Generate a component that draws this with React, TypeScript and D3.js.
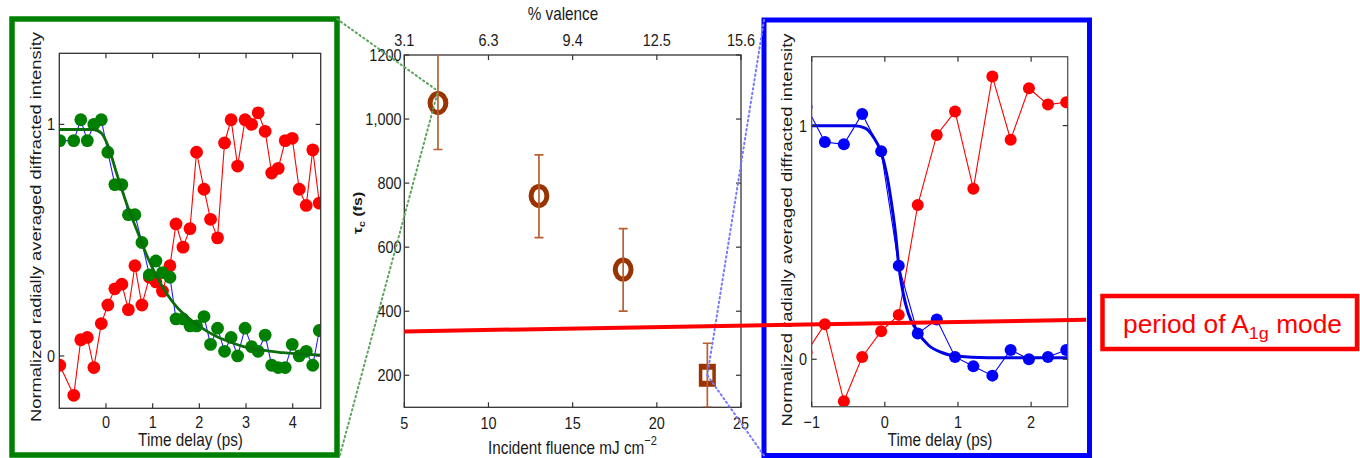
import React from 'react';
import * as d3 from 'd3';

const FONT = "'Liberation Sans', Arial, Helvetica, sans-serif";

// ---------- Left panel (green frame) ----------
const L_TIME = [-0.99, -0.69, -0.54, -0.40, -0.26, -0.10, 0.04, 0.19, 0.34, 0.48, 0.62, 0.77, 0.93, 1.07, 1.21, 1.37, 1.50, 1.65, 1.80, 1.94, 2.10, 2.24, 2.39, 2.54, 2.68, 2.82, 2.98, 3.12, 3.26, 3.41, 3.55, 3.69, 3.84, 3.99, 4.14, 4.29, 4.43, 4.57];
const L_GREEN = [0.93, 0.93, 1.02, 0.93, 1.00, 1.02, 0.88, 0.74, 0.74, 0.61, 0.61, 0.49, 0.35, 0.41, 0.36, 0.34, 0.16, 0.16, 0.13, 0.13, 0.17, 0.05, 0.12, 0.02, 0.08, 0.00, 0.12, 0.04, 0.02, 0.09, -0.04, -0.05, -0.05, 0.05, 0.00, 0.02, -0.04, 0.11];
const L_RED = [-0.04, -0.17, 0.07, 0.08, -0.05, 0.14, 0.22, 0.29, 0.31, 0.20, 0.39, 0.22, 0.34, 0.32, 0.28, 0.39, 0.57, 0.47, 0.55, 0.88, 0.72, 0.59, 0.51, 0.92, 1.02, 0.82, 1.02, 1.00, 1.05, 0.97, 0.79, 0.81, 0.93, 0.94, 0.72, 0.65, 0.89, 0.66];
const L_FIT_T = [-1, -0.27, -0.09, 0.05, 0.23, 0.44, 0.66, 0.87, 1.09, 1.30, 1.51, 1.73, 2.01, 2.37, 2.73, 3.09, 3.44, 3.80, 4.16, 4.6];
const L_FIT_V = [0.978, 0.978, 0.961, 0.904, 0.788, 0.659, 0.544, 0.436, 0.342, 0.270, 0.213, 0.170, 0.127, 0.084, 0.055, 0.033, 0.023, 0.014, 0.009, 0.004];
const L_X_TICKS = [0, 1, 2, 3, 4];
const L_Y_TICKS = [0, 1];

// ---------- Center panel ----------
const FLUENCE = [7, 13, 18, 23];
const TAU = [1050, 760, 530, 200];
const TAU_LO = [905, 630, 400, 100];
const TAU_HI = [1205, 888, 658, 300];
const MARKER = ['circle', 'circle', 'circle', 'square'];
const C_X_TICKS = [5, 10, 15, 20, 25];
const C_TOP_LABELS = ['3.1', '6.3', '9.4', '12.5', '15.6'];
const C_Y_TICKS = [200, 400, 600, 800, 1000, 1200];
const C_Y_LABELS = ['200', '400', '600', '800', '1,000', '1200'];
// A1g period annotation line (in center-panel data coordinates)
const A1G_FLUENCE = [5, 45.5];
const A1G_TAU = [337, 373];

// ---------- Right panel (blue frame) ----------
const R_TIME = [-1.07, -0.82, -0.56, -0.31, -0.05, 0.19, 0.45, 0.71, 0.96, 1.21, 1.47, 1.72, 1.97, 2.23, 2.48];
const R_BLUE = [1.08, 0.93, 0.92, 1.05, 0.89, 0.40, 0.11, 0.17, 0.01, -0.03, -0.07, 0.04, 0.00, 0.01, 0.04];
const R_RED = [0.03, 0.15, -0.18, 0.01, 0.12, 0.19, 0.66, 0.96, 1.06, 0.73, 1.21, 0.94, 1.16, 1.09, 1.10];
const R_FIT_T = [-1, -0.41, -0.27, -0.16, -0.055, 0.023, 0.091, 0.146, 0.192, 0.251, 0.320, 0.447, 0.594, 0.776, 0.959, 1.416, 2.5];
const R_FIT_V = [1.0, 1.0, 0.989, 0.953, 0.889, 0.796, 0.668, 0.539, 0.397, 0.282, 0.197, 0.118, 0.061, 0.029, 0.014, 0.007, 0.007];
const R_X_TICKS = [-1, 0, 1, 2];
const R_Y_TICKS = [0, 1];

const Y_LABEL = 'Normalized radially averaged diffracted intensity';

type TP = {
  x: number; y: number; children: React.ReactNode; size?: number; anchor?: string;
  rot?: boolean; weight?: string; fill?: string; sx?: number; len?: number;
};
function T({ x, y, children, size = 17, anchor = 'middle', rot = false, weight = 'normal', fill = '#1a1a1a', sx = 0.85, len }: TP) {
  const tr = rot
    ? `translate(${x},${y}) scale(${sx},1) rotate(-90)`
    : `translate(${x},${y}) scale(${sx},1)`;
  const extra: any = {};
  if (len) { extra.textLength = len; extra.lengthAdjust = 'spacingAndGlyphs'; }
  return (
    <text transform={tr} fontSize={size} textAnchor={anchor as any} fontFamily={FONT} fontWeight={weight} fill={fill} {...extra}>
      {children}
    </text>
  );
}

const pts = (xs: number[], ys: number[]) => xs.map((x, i) => [x, ys[i]] as [number, number]);

export default function App() {
  // scales
  const lx = d3.scaleLinear().domain([-1, 4.6]).range([59.3, 320.7]);
  const ly = d3.scaleLinear().domain([-0.226, 1.307]).range([408.3, 53.3]);
  const cx = d3.scaleLinear().domain([5, 25]).range([404.3, 741]);
  const cy = d3.scaleLinear().domain([100, 1200]).range([407.3, 55]);
  const rx = d3.scaleLinear().domain([-1, 2.5]).range([811.7, 1067.7]);
  const ry = d3.scaleLinear().domain([-0.203, 1.295]).range([406.7, 56.7]);

  const lLine = d3.line<[number, number]>().x(d => lx(d[0])).y(d => ly(d[1]));
  const lFit = d3.line<[number, number]>().x(d => lx(d[0])).y(d => ly(d[1])).curve(d3.curveMonotoneX);
  const rLine = d3.line<[number, number]>().x(d => rx(d[0])).y(d => ry(d[1]));
  const rFit = d3.line<[number, number]>().x(d => rx(d[0])).y(d => ry(d[1])).curve(d3.curveMonotoneX);

  const lG = pts(L_TIME, L_GREEN);
  const lR = pts(L_TIME, L_RED);
  const rB = pts(R_TIME, R_BLUE);
  const rR = pts(R_TIME, R_RED);

  const [lx0, lx1] = lx.range();
  const [ly1, ly0] = ly.range();
  const [cx0, cx1] = cx.range();
  const [cy1, cy0] = cy.range();
  const [rx0, rx1] = rx.range();
  const [ry1, ry0] = ry.range();

  const axisColor = '#333';
  const tickLen = 5;

  // frames (layout)
  const GF = { x0: 12, y0: 19, x1: 337, y1: 455 };
  const BF = { x0: 764, y0: 20, x1: 1089.5, y1: 455.5 };

  const brown = '#993300';
  const errColor = '#b8602f';

  // zoom-connection targets
  const gTarget = [cx(FLUENCE[0]), cy(TAU[0]) - 12];
  const bTarget = [cx(FLUENCE[3]), cy(TAU[3])];

  return (
    <svg width={1360} height={458} style={{ position: 'absolute', left: 0, top: 0, background: '#fff' }}>
      <defs>
        <clipPath id="clipL"><rect x={lx0} y={ly0} width={lx1 - lx0} height={ly1 - ly0} /></clipPath>
        <clipPath id="clipC"><rect x={cx0} y={cy0} width={cx1 - cx0} height={cy1 - cy0} /></clipPath>
        <clipPath id="clipR"><rect x={rx0} y={ry0} width={rx1 - rx0} height={ry1 - ry0} /></clipPath>
      </defs>
      <rect x={0} y={0} width={1360} height={458} fill="#fff" />

      {/* ================= LEFT PANEL ================= */}
      <g>
        <g clipPath="url(#clipL)">
          <path d={lLine(lR) || ''} fill="none" stroke="#ff0000" strokeWidth={1.1} />
          {lR.map((d, i) => <circle key={'lr' + i} cx={lx(d[0])} cy={ly(d[1])} r={6.4} fill="#ff0000" />)}
          <path d={lLine(lG) || ''} fill="none" stroke="#2222ff" strokeWidth={1.1} />
          {lG.map((d, i) => <circle key={'lg' + i} cx={lx(d[0])} cy={ly(d[1])} r={6.4} fill="#008000" />)}
          <path d={lFit(pts(L_FIT_T, L_FIT_V)) || ''} fill="none" stroke="#0a6e0a" strokeWidth={2.8} />
        </g>
        <rect x={lx0} y={ly0} width={lx1 - lx0} height={ly1 - ly0} fill="none" stroke={axisColor} strokeWidth={1.3} />
        {L_X_TICKS.map(t => (
          <g key={'lxt' + t}>
            <line x1={lx(t)} x2={lx(t)} y1={ly1} y2={ly1 - tickLen} stroke={axisColor} strokeWidth={1.2} />
            <line x1={lx(t)} x2={lx(t)} y1={ly0} y2={ly0 + tickLen} stroke={axisColor} strokeWidth={1.2} />
            <T x={lx(t)} y={428}>{String(t)}</T>
          </g>
        ))}
        {L_Y_TICKS.map(v => (
          <g key={'lyt' + v}>
            <line x1={lx0} x2={lx0 + tickLen} y1={ly(v)} y2={ly(v)} stroke={axisColor} strokeWidth={1.2} />
            <line x1={lx1} x2={lx1 - tickLen} y1={ly(v)} y2={ly(v)} stroke={axisColor} strokeWidth={1.2} />
            <T x={55} y={ly(v) + 6} anchor="end">{String(v)}</T>
          </g>
        ))}
        <T x={190.5} y={446} size={18}>Time delay (ps)</T>
        <T x={40.5} y={227} size={18} rot len={390}>{Y_LABEL}</T>
        <rect x={GF.x0} y={GF.y0} width={GF.x1 - GF.x0} height={GF.y1 - GF.y0} fill="none" stroke="#008000" strokeWidth={5.5} />
      </g>

      {/* ================= CENTER PANEL ================= */}
      <g>
        <rect x={cx0} y={cy0} width={cx1 - cx0} height={cy1 - cy0} fill="none" stroke={axisColor} strokeWidth={1.3} />
        {C_X_TICKS.map((f, i) => (
          <g key={'cxt' + f}>
            <line x1={cx(f)} x2={cx(f)} y1={cy1} y2={cy1 - tickLen} stroke={axisColor} strokeWidth={1.2} />
            <line x1={cx(f)} x2={cx(f)} y1={cy0} y2={cy0 + tickLen} stroke={axisColor} strokeWidth={1.2} />
            <T x={cx(f)} y={429}>{String(f)}</T>
            <T x={cx(f)} y={46}>{C_TOP_LABELS[i]}</T>
          </g>
        ))}
        {C_Y_TICKS.map((v, i) => (
          <g key={'cyt' + v}>
            <line x1={cx0} x2={cx0 + tickLen} y1={cy(v)} y2={cy(v)} stroke={axisColor} strokeWidth={1.2} />
            <line x1={cx1} x2={cx1 - tickLen} y1={cy(v)} y2={cy(v)} stroke={axisColor} strokeWidth={1.2} />
            <T x={401.5} y={cy(v) + 6} anchor="end">{C_Y_LABELS[i]}</T>
          </g>
        ))}
        <g clipPath="url(#clipC)">
          {FLUENCE.map((f, i) => (
            MARKER[i] === 'circle'
              ? <ellipse key={'m' + i} cx={cx(f)} cy={cy(TAU[i])} rx={7.9} ry={9.5} fill="#fff" stroke={brown} strokeWidth={5} />
              : <g key={'m' + i}>
                  <rect x={cx(f) - 8.5} y={cy(TAU[i]) - 11.5} width={17} height={23} fill={brown} />
                  <rect x={cx(f) - 5} y={cy(TAU[i]) - 5.5} width={10} height={11} fill="#fff" />
                </g>
          ))}
          {FLUENCE.map((f, i) => (
            <g key={'e' + i}>
              <line x1={cx(f)} x2={cx(f)} y1={cy(TAU_LO[i])} y2={cy(TAU_HI[i])} stroke={errColor} strokeWidth={1.7} />
              <line x1={cx(f) - 4.5} x2={cx(f) + 4.5} y1={cy(TAU_LO[i])} y2={cy(TAU_LO[i])} stroke={errColor} strokeWidth={1.7} />
              <line x1={cx(f) - 4.5} x2={cx(f) + 4.5} y1={cy(TAU_HI[i])} y2={cy(TAU_HI[i])} stroke={errColor} strokeWidth={1.7} />
            </g>
          ))}
        </g>
        <T x={563} y={20} size={18}>% valence</T>
        <T x={572.5} y={454} size={18}>
          Incident fluence mJ cm<tspan fontSize={13} dy={-9}>−2</tspan>
        </T>
        <T x={362} y={213} size={16} rot weight="bold">
          τ<tspan fontSize={11} dy={4}>c</tspan><tspan dy={-4}> (fs)</tspan>
        </T>
      </g>

      {/* ================= RIGHT PANEL ================= */}
      <g>
        <g clipPath="url(#clipR)">
          <path d={rLine(rR) || ''} fill="none" stroke="#ff0000" strokeWidth={1.1} />
          {rR.map((d, i) => <circle key={'rr' + i} cx={rx(d[0])} cy={ry(d[1])} r={6} fill="#ff0000" />)}
          <path d={rLine(rB) || ''} fill="none" stroke="#0000ff" strokeWidth={1.1} />
          {rB.map((d, i) => <circle key={'rb' + i} cx={rx(d[0])} cy={ry(d[1])} r={6} fill="#0000ff" />)}
          <path d={rFit(pts(R_FIT_T, R_FIT_V)) || ''} fill="none" stroke="#0000e6" strokeWidth={3} />
        </g>
        <rect x={rx0} y={ry0} width={rx1 - rx0} height={ry1 - ry0} fill="none" stroke="#555" strokeWidth={1.3} />
        {R_X_TICKS.map(t => (
          <g key={'rxt' + t}>
            <line x1={rx(t)} x2={rx(t)} y1={ry1} y2={ry1 - tickLen} stroke={axisColor} strokeWidth={1.2} />
            <line x1={rx(t)} x2={rx(t)} y1={ry0} y2={ry0 + tickLen} stroke={axisColor} strokeWidth={1.2} />
            <T x={rx(t)} y={428}>{t < 0 ? '−' + Math.abs(t) : String(t)}</T>
          </g>
        ))}
        {R_Y_TICKS.map(v => (
          <g key={'ryt' + v}>
            <line x1={rx0} x2={rx0 + tickLen} y1={ry(v)} y2={ry(v)} stroke={axisColor} strokeWidth={1.2} />
            <line x1={rx1} x2={rx1 - tickLen} y1={ry(v)} y2={ry(v)} stroke={axisColor} strokeWidth={1.2} />
            <T x={807} y={ry(v) + 6} anchor="end">{String(v)}</T>
          </g>
        ))}
        <T x={940} y={446} size={18}>Time delay (ps)</T>
        <T x={792} y={230} size={18} rot len={393}>{Y_LABEL}</T>
        <rect x={BF.x0} y={BF.y0} width={BF.x1 - BF.x0} height={BF.y1 - BF.y0} fill="none" stroke="#0000ff" strokeWidth={5} />
      </g>

      {/* ================= zoom connectors ================= */}
      <g fill="none" strokeWidth={2} strokeDasharray="1.4,3.2" strokeLinecap="round">
        <line x1={GF.x1} y1={GF.y0} x2={gTarget[0]} y2={gTarget[1]} stroke="#5aa35a" />
        <line x1={GF.x1 + 3} y1={GF.y1} x2={gTarget[0]} y2={gTarget[1]} stroke="#5aa35a" />
        <line x1={BF.x0} y1={BF.y0} x2={bTarget[0]} y2={bTarget[1]} stroke="#7777ff" />
        <line x1={BF.x0} y1={BF.y1} x2={bTarget[0]} y2={bTarget[1]} stroke="#7777ff" />
      </g>

      {/* ================= A1g period annotation ================= */}
      <line x1={cx(A1G_FLUENCE[0])} y1={cy(A1G_TAU[0])} x2={cx(A1G_FLUENCE[1])} y2={cy(A1G_TAU[1])} stroke="#ff0000" strokeWidth={4} />
      <rect x={1102.5} y={296} width={254.5} height={53} fill="#fff" stroke="#ff0000" strokeWidth={4.5} />
      <T x={1123} y={333} size={25} anchor="start" fill="#ff0000" sx={1} len={219}>
        period of A<tspan fontSize={17} dy={6}>1g</tspan><tspan dy={-6}> mode</tspan>
      </T>
    </svg>
  );
}
